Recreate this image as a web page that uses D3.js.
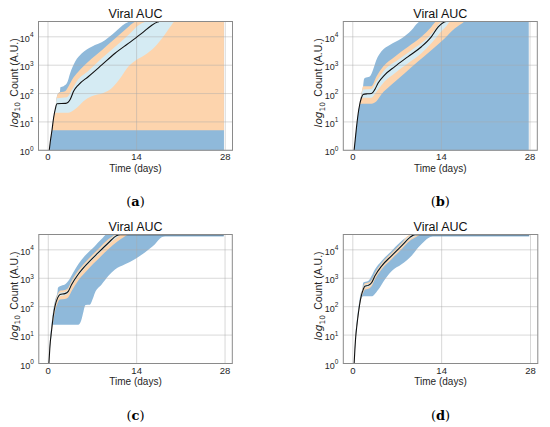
<!DOCTYPE html>
<html>
<head>
<meta charset="utf-8">
<script src="https://d3js.org/d3.v7.min.js"></script>
<style>
  body { margin: 0; background: #fff; }
  text { font-family: "Liberation Sans", Arial, sans-serif; fill: #262626; }
</style>
</head>
<body>
<div id="chart"></div>
<script>
"use strict";

// Axis ticks and labels shared by the four panels
var dayTicks = [0, 14, 28];
var countTicks = [1, 10, 100, 1000, 10000];
var countMax = 34700;
var chartTitle = 'Viral AUC';
var xLabel = 'Time (days)';
var captions = ['a', 'b', 'c', 'd'];

// Each series is a list of [day, count].
// outer = dark blue band, mid = orange band, inner = light blue band.

// (a)
var aOuterLo = [[0.2, 0.8], [27.8, 0.8]];
var aOuterHi = [[0.2, 1], [0.4, 2.3], [0.63, 5.1], [0.89, 14], [1.15, 28], [1.42, 80], [1.68, 105], [1.9, 115], [1.96, 166], [2.46, 182], [3.0, 234], [3.5, 525], [4.3, 1350], [5.35, 2630], [6.9, 4470], [9.0, 7590], [10.6, 14800], [12.2, 29500], [12.7, 33100], [13.0, 34700], [27.8, 34700]];
var aMidLo = [[0.2, 1], [0.4, 2.3], [0.63, 5.1], [27.8, 5.1]];
var aMidHi = [[0.2, 1], [0.4, 2.3], [0.63, 5.1], [0.89, 14], [1.15, 28], [1.42, 80], [1.68, 105], [2.7, 120], [3.25, 182], [3.8, 309], [4.82, 603], [6.4, 1350], [8.5, 3390], [10.6, 8710], [12.4, 19500], [13.7, 33100], [14.0, 34700], [27.8, 34700]];
var aInLo = [[0.2, 1], [0.4, 2.3], [0.63, 5.1], [0.89, 14], [1.05, 21], [3.0, 21], [3.8, 24], [4.82, 36], [5.6, 54], [6.9, 81], [8.75, 105], [10.1, 158], [11.6, 398], [12.7, 891], [14.0, 1550], [15.3, 2290], [16.9, 4470], [18.2, 10000], [19.5, 25700], [19.9, 33100], [20.2, 34700], [27.8, 34700]];
var aInHi = [[0.2, 1], [0.4, 2.3], [0.63, 5.1], [0.89, 14], [1.15, 28], [1.42, 68], [3.0, 74], [3.8, 138], [4.56, 269], [6.4, 631], [8.5, 1740], [10.6, 4470], [12.7, 11500], [14.3, 25700], [15.3, 33100], [15.6, 34700], [27.8, 34700]];
var aMedian = [[0.2, 1], [0.4, 2.3], [0.63, 5.1], [0.89, 14], [1.15, 28], [1.42, 44], [2.8, 45], [3.2, 50], [3.5, 62], [4.04, 120], [4.82, 204], [6.4, 400], [8.5, 1020], [10.6, 2630], [12.7, 5890], [14.8, 13200], [16.4, 25700], [17.3, 33100], [17.6, 34700], [27.8, 34700]];

// (b)
var bOuterLo = [[0.21, 0.8], [27.8, 0.8]];
var bOuterHi = [[0.21, 1], [0.58, 6.3], [0.84, 19], [1.1, 45], [1.37, 100], [1.63, 182], [1.75, 309], [1.9, 355], [2.68, 398], [3.2, 692], [3.74, 1550], [4.5, 3020], [5.84, 5130], [7.68, 8710], [9.26, 17000], [10.3, 31600], [10.6, 34700], [27.8, 34700]];
var bMidLo = [[0.21, 1], [0.58, 6.3], [0.84, 19], [1.1, 40], [1.37, 44], [2.95, 44], [3.74, 54], [4.5, 93], [6.1, 204], [8.2, 525], [10.3, 1350], [12.4, 3390], [14.5, 8710], [16.1, 19500], [17.4, 31600], [17.7, 34700], [27.8, 34700]];
var bMidHi = [[0.21, 1], [0.58, 6.3], [0.84, 19], [1.1, 45], [1.37, 100], [1.63, 182], [2.95, 182], [3.74, 398], [4.8, 891], [6.63, 2000], [8.74, 4470], [10.84, 10000], [12.4, 22400], [13.05, 33100], [13.3, 34700], [27.8, 34700]];
var bInLo = [[0.21, 1], [0.58, 6.3], [0.84, 19], [1.1, 42], [1.37, 66], [1.63, 71], [2.95, 71], [3.74, 115], [5.05, 269], [6.63, 525], [8.74, 1170], [10.84, 2630], [12.4, 5890], [13.7, 13200], [14.8, 24000], [15.3, 33100], [15.6, 34700], [27.8, 34700]];
var bInHi = [[0.21, 1], [0.58, 6.3], [0.84, 19], [1.1, 45], [1.37, 89], [1.63, 138], [2.95, 145], [3.74, 269], [5.05, 692], [7.16, 1550], [9.26, 3390], [11.4, 7590], [12.9, 17000], [13.7, 29500], [14.1, 33100], [14.4, 34700], [27.8, 34700]];
var bMedian = [[0.21, 1], [0.58, 6.3], [0.84, 19], [1.1, 42], [1.37, 71], [1.63, 93], [2.3, 98], [2.95, 100], [3.47, 138], [4.0, 234], [5.05, 457], [6.63, 891], [8.74, 2000], [10.84, 4470], [12.4, 10000], [13.5, 22400], [14.26, 31600], [14.8, 34700], [27.8, 34700]];

// (c)
var cOuterLo = [[0.1, 1], [0.26, 3.0], [0.53, 11], [0.65, 23], [4.75, 23], [5.2, 32], [5.6, 71], [5.9, 115], [6.6, 117], [7.0, 178], [7.4, 309], [8.45, 603], [9.5, 1200], [10.57, 2040], [12.15, 3090], [13.7, 4680], [15.3, 8130], [16.9, 15800], [17.96, 27500], [18.5, 29500], [27.8, 29500]];
var cOuterHi = [[0.1, 1], [0.26, 5.5], [0.53, 25], [0.79, 75], [1.06, 160], [1.48, 355], [1.52, 457], [1.85, 525], [2.64, 603], [3.17, 794], [3.96, 1580], [4.75, 3090], [5.8, 6170], [7.4, 13800], [8.45, 24000], [9.24, 34700], [27.8, 34700]];
var cMidLo = [[0.1, 1], [0.26, 3.2], [0.53, 12], [0.79, 30], [1.06, 66], [1.48, 135], [1.85, 178], [2.64, 186], [3.17, 214], [3.7, 355], [4.75, 832], [6.34, 2140], [7.92, 4790], [9.5, 10500], [11.0, 20000], [12.0, 28200], [12.6, 33000], [27.8, 33000]];
var cMidHi = [[0.1, 1], [0.26, 4.5], [0.53, 19], [0.79, 60], [1.06, 135], [1.48, 275], [1.85, 363], [2.64, 389], [3.17, 468], [3.7, 813], [4.75, 1860], [6.34, 4790], [7.92, 10700], [9.5, 23400], [10.3, 31600], [10.7, 34600], [27.8, 34600]];
var cInLo = [[0.1, 1], [0.26, 3.6], [0.53, 14], [0.79, 40], [1.06, 89], [1.48, 178], [1.85, 234], [2.64, 251], [3.17, 302], [3.7, 525], [4.75, 1200], [6.34, 3090], [7.92, 6920], [9.5, 15100], [11.0, 28200], [11.6, 34000], [27.8, 34000]];
var cInHi = [[0.1, 1], [0.26, 4.2], [0.53, 17], [0.79, 52], [1.06, 115], [1.48, 235], [1.85, 309], [2.64, 331], [3.17, 398], [3.7, 692], [4.75, 1580], [6.34, 4070], [7.92, 9120], [9.5, 20000], [10.5, 31600], [11.0, 34500], [27.8, 34500]];
var cMedian = [[0.1, 1], [0.26, 3.9], [0.53, 15], [0.79, 46], [1.06, 102], [1.48, 204], [1.85, 269], [2.64, 288], [3.17, 347], [3.7, 603], [4.75, 1380], [6.34, 3550], [7.92, 7940], [9.5, 17400], [10.8, 31600], [11.4, 34300], [27.8, 34300]];

// (d)
var dOuterLo = [[0.21, 1], [0.42, 5.5], [0.68, 21], [0.95, 62], [1.26, 175], [1.63, 234], [2.95, 234], [4.0, 398], [5.05, 912], [6.1, 1780], [7.68, 3090], [9.26, 6170], [10.3, 12000], [11.37, 20900], [12.2, 28200], [12.6, 29500], [27.8, 29500]];
var dOuterHi = [[0.21, 1], [0.42, 10], [0.68, 40], [0.95, 120], [1.26, 300], [1.5, 398], [1.63, 692], [2.42, 794], [2.95, 1200], [3.47, 2040], [4.53, 4070], [6.1, 9120], [7.42, 18200], [8.47, 27500], [9.26, 34700], [27.8, 34700]];
var dMidLo = [[0.21, 1], [0.42, 5.8], [0.68, 22], [0.95, 64], [1.26, 178], [1.63, 302], [1.9, 398], [2.42, 427], [2.95, 525], [3.47, 912], [4.53, 2040], [6.1, 4680], [7.68, 10500], [9.0, 20900], [10.0, 28200], [10.6, 33000], [27.8, 33000]];
var dMidHi = [[0.21, 1], [0.42, 8.5], [0.68, 33], [0.95, 98], [1.26, 257], [1.63, 501], [1.9, 661], [2.42, 708], [2.95, 871], [3.47, 1510], [4.53, 3390], [6.1, 7760], [7.68, 17400], [8.7, 31600], [9.3, 34600], [27.8, 34600]];
var dInLo = [[0.21, 1], [0.42, 6.2], [0.68, 24], [0.95, 70], [1.26, 190], [1.63, 355], [1.9, 468], [2.42, 501], [2.95, 617], [3.47, 1070], [4.53, 2400], [6.1, 5500], [7.68, 12300], [9.0, 24500], [9.8, 30200], [10.3, 34000], [27.8, 34000]];
var dInHi = [[0.21, 1], [0.42, 7.6], [0.68, 29], [0.95, 88], [1.26, 229], [1.63, 447], [1.9, 589], [2.42, 631], [2.95, 776], [3.47, 1350], [4.53, 3020], [6.1, 6920], [7.68, 15500], [8.9, 30200], [9.5, 34500], [27.8, 34500]];
var dMedian = [[0.21, 1], [0.42, 6.8], [0.68, 26], [0.95, 78], [1.26, 204], [1.63, 398], [1.9, 525], [2.42, 562], [2.95, 692], [3.47, 1200], [4.53, 2690], [6.1, 6170], [7.68, 13800], [9.0, 27500], [9.8, 34300], [27.8, 34300]];

var colors = { outer: '#8fb9da', mid: '#fdd4ad', inner: '#d5ebf3', median: '#111' };

var panels = [
  { box: { x: 38.5, y: 21.5, w: 194, h: 128.8 }, outer: [aOuterLo, aOuterHi], mid: [aMidLo, aMidHi], inner: [aInLo, aInHi], median: aMedian },
  { box: { x: 343.3, y: 21.5, w: 194, h: 128.8 }, outer: [bOuterLo, bOuterHi], mid: [bMidLo, bMidHi], inner: [bInLo, bInHi], median: bMedian },
  { box: { x: 38.8, y: 234.5, w: 193.5, h: 129 }, outer: [cOuterLo, cOuterHi], mid: [cMidLo, cMidHi], inner: [cInLo, cInHi], median: cMedian },
  { box: { x: 343.3, y: 234.5, w: 194.5, h: 129 }, outer: [dOuterLo, dOuterHi], mid: [dMidLo, dMidHi], inner: [dInLo, dInHi], median: dMedian }
];

var svg = d3.select('#chart')
  .append('svg')
    .attr('width', 550)
    .attr('height', 427);

var drawPanel = function (panel, index) {
  var box = panel.box;
  var x = d3.scaleLinear().domain([-1.5, 29.15]).range([box.x, box.x + box.w]);
  var y = d3.scaleLog().domain([1, countMax]).range([box.y + box.h, box.y]);

  var line = d3.line()
    .x(function (d) { return x(d[0]); })
    .y(function (d) { return y(d[1]); })
    .curve(d3.curveMonotoneX);

  // Band polygon: upper edge forwards, lower edge backwards
  var band = function (pair) {
    var lower = line(pair[0].slice().reverse());
    return line(pair[1]) + 'L' + lower.slice(1) + 'Z';
  };

  var clipId = 'clip-' + index;
  svg.append('clipPath').attr('id', clipId)
    .append('rect')
      .attr('x', box.x).attr('y', box.y)
      .attr('width', box.w).attr('height', box.h);

  var g = svg.append('g');
  var plot = g.append('g').attr('clip-path', 'url(#' + clipId + ')');

  plot.append('path').attr('d', band(panel.outer)).attr('fill', colors.outer);
  plot.append('path').attr('d', band(panel.mid)).attr('fill', colors.mid);
  plot.append('path').attr('d', band(panel.inner)).attr('fill', colors.inner);

  // grid sits over the fills
  plot.selectAll('.hgrid').data(countTicks).enter()
    .append('line')
      .attr('x1', box.x).attr('x2', box.x + box.w)
      .attr('y1', function (d) { return y(d); })
      .attr('y2', function (d) { return y(d); })
      .attr('stroke', '#a8a8a8').attr('stroke-opacity', 0.45).attr('stroke-width', 1);
  plot.selectAll('.vgrid').data(dayTicks).enter()
    .append('line')
      .attr('y1', box.y).attr('y2', box.y + box.h)
      .attr('x1', function (d) { return x(d); })
      .attr('x2', function (d) { return x(d); })
      .attr('stroke', '#a8a8a8').attr('stroke-opacity', 0.45).attr('stroke-width', 1);

  plot.append('path')
    .attr('d', line(panel.median))
    .attr('fill', 'none')
    .attr('stroke', colors.median)
    .attr('stroke-width', 1.1);

  g.append('rect')
    .attr('x', box.x).attr('y', box.y)
    .attr('width', box.w).attr('height', box.h)
    .attr('fill', 'none')
    .attr('stroke', '#8a8a8a')
    .attr('stroke-width', 1);

  // x tick labels
  g.selectAll('.xtick').data(dayTicks).enter()
    .append('text')
      .attr('x', function (d) { return x(d); })
      .attr('y', box.y + box.h + 10)
      .attr('text-anchor', 'middle')
      .attr('font-size', '9.5px')
      .text(function (d) { return d; });

  // y tick labels as 10^k
  g.selectAll('.ytick').data(countTicks).enter()
    .append('text')
      .attr('x', box.x - 5)
      .attr('y', function (d) { return y(d) + 5; })
      .attr('text-anchor', 'end')
      .attr('font-size', '9px')
      .each(function (d) {
        var t = d3.select(this);
        t.append('tspan').text('10');
        t.append('tspan')
          .attr('dy', '-4.5')
          .attr('font-size', '6.5px')
          .text(Math.round(Math.log10(d)));
      });

  var cx = box.x + box.w / 2;

  g.append('text')
    .attr('x', cx)
    .attr('y', box.y - 3.4)
    .attr('text-anchor', 'middle')
    .attr('font-size', '12.5px')
    .style('fill', '#111')
    .text(chartTitle);

  g.append('text')
    .attr('x', cx)
    .attr('y', box.y + box.h + 21.5)
    .attr('text-anchor', 'middle')
    .attr('font-size', '10px')
    .text(xLabel);

  var ylab = g.append('text')
    .attr('transform', 'translate(' + (box.x - 21) + ',' + (box.y + box.h / 2 - 3) + ') rotate(-90)')
    .attr('text-anchor', 'middle')
    .attr('font-size', '10.5px');
  ylab.append('tspan')
    .attr('font-family', '"DejaVu Sans", sans-serif')
    .attr('font-style', 'italic')
    .text('log');
  ylab.append('tspan')
    .attr('font-family', '"DejaVu Sans", sans-serif')
    .attr('font-size', '7.5px')
    .attr('dy', 2.5)
    .text('10');
  ylab.append('tspan')
    .attr('dy', -2.5)
    .text('\u2002Count (A.U.)');

  var cap = g.append('text')
    .attr('x', cx)
    .attr('y', box.y + box.h + 56)
    .attr('text-anchor', 'middle')
    .attr('font-size', '13px')
    .style('font-family', '"DejaVu Serif", "Liberation Serif", serif')
    .style('fill', '#000');
  cap.append('tspan').text('(');
  cap.append('tspan').attr('font-weight', 'bold').text(captions[index]);
  cap.append('tspan').text(')');
};

panels.forEach(drawPanel);
</script>
</body>
</html>
